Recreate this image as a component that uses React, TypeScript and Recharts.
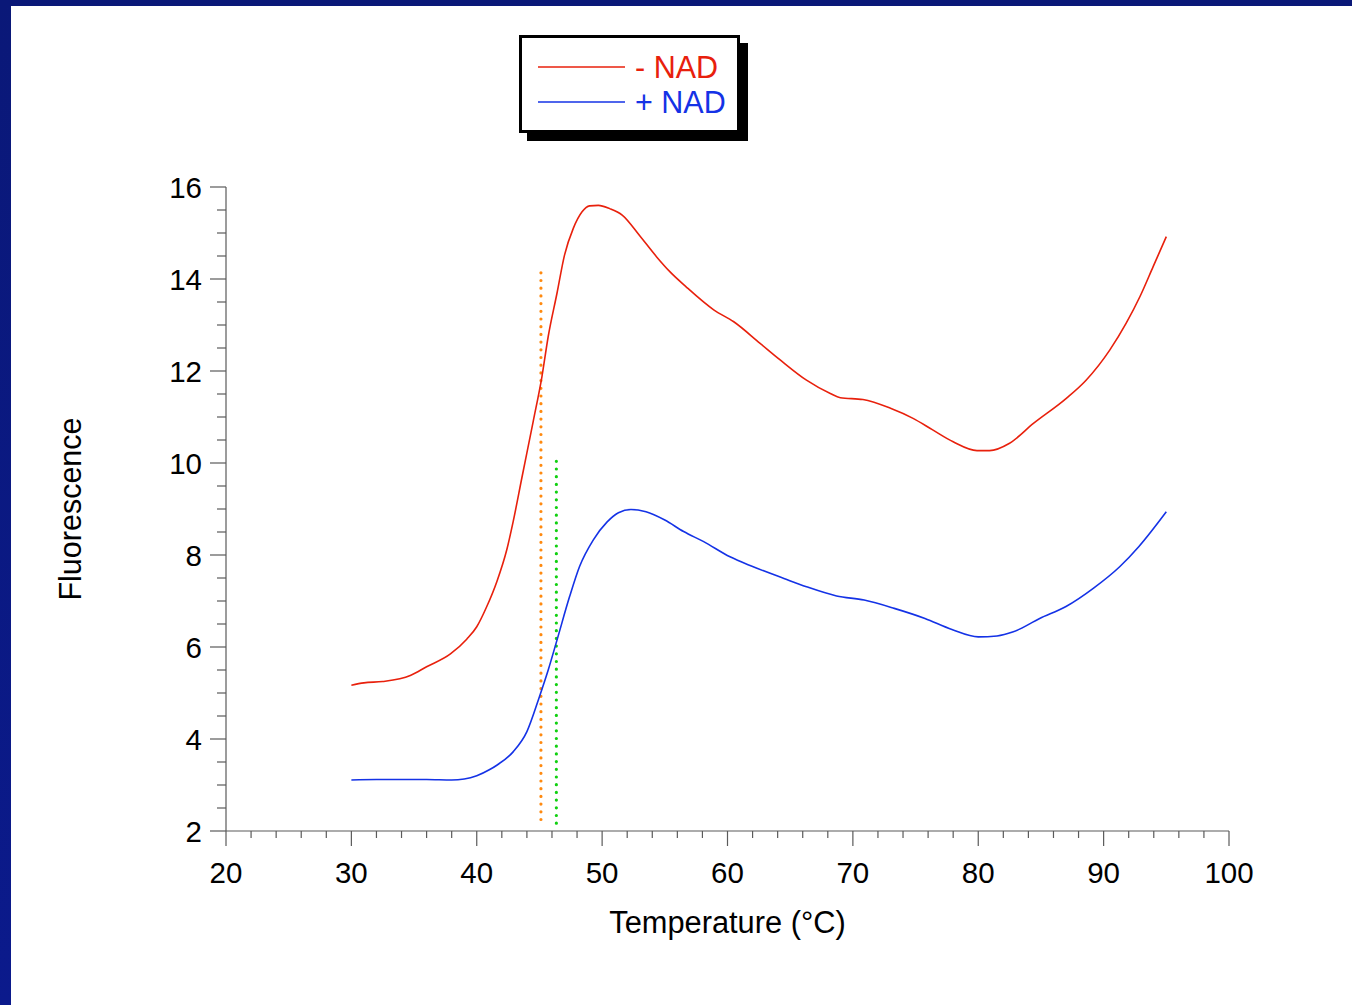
import { LineChart, Line, XAxis, YAxis, ReferenceLine, Legend } from 'recharts';

// melting curves (temperature in °C, fluorescence)
const minusNadTemp = [30, 31, 32.5, 34.7, 36, 37.9, 39.2, 40, 40.8, 41.6, 42.4, 42.9, 43.6, 44.5, 45.2, 45.7, 46.4, 47, 47.7, 48.4, 49, 49.7, 50.6, 51.6, 53, 54.35, 55.4, 56.7, 58.9, 60.5, 62.6, 64.2, 66.3, 68.2, 69, 70.8, 73, 74.8, 76.3, 78, 79.9, 80.9, 82.5, 84.4, 87, 88.6, 90.5, 91.8, 92.9, 93.95, 95];
const minusNadFluo = [5.17, 5.22, 5.25, 5.38, 5.57, 5.85, 6.17, 6.44, 6.88, 7.42, 8.12, 8.72, 9.68, 10.9, 11.88, 12.75, 13.69, 14.52, 15.1, 15.46, 15.59, 15.6, 15.53, 15.39, 14.94, 14.48, 14.16, 13.83, 13.33, 13.07, 12.6, 12.24, 11.8, 11.51, 11.42, 11.38, 11.19, 10.97, 10.73, 10.46, 10.27, 10.27, 10.43, 10.86, 11.4, 11.8, 12.46, 13.04, 13.62, 14.27, 14.92];

const plusNadTemp = [30, 32, 34, 36, 38, 39, 40, 41, 41.6, 42.9, 44, 45, 45.7, 46.4, 47.4, 48.2, 49.3, 50.4, 51.3, 52.3, 53.5, 55, 56.5, 58.1, 60.2, 62, 64.5, 66.3, 68.7, 70.9, 73.3, 75.75, 77.9, 80, 81.5, 82.8, 84.9, 87, 89.2, 91.3, 92.8, 95];
const plusNadFluo = [3.11, 3.12, 3.12, 3.12, 3.11, 3.13, 3.2, 3.33, 3.43, 3.72, 4.16, 4.92, 5.5, 6.15, 7.09, 7.75, 8.33, 8.72, 8.92, 8.99, 8.94, 8.76, 8.51, 8.29, 7.96, 7.75, 7.49, 7.31, 7.11, 7.02, 6.84, 6.62, 6.38, 6.22, 6.24, 6.33, 6.62, 6.88, 7.28, 7.75, 8.18, 8.94];

// dotted markers (Tm estimates)
const orangeMark = { t: 45.12, from: 2.25, to: 14.15 };
const greenMark = { t: 46.35, from: 2.17, to: 10.2 };

const xTicks = [20, 22, 24, 26, 28, 30, 32, 34, 36, 38, 40, 42, 44, 46, 48, 50, 52, 54, 56, 58, 60, 62, 64, 66, 68, 70, 72, 74, 76, 78, 80, 82, 84, 86, 88, 90, 92, 94, 96, 98, 100];
const xLabels = [20, 30, 40, 50, 60, 70, 80, 90, 100];
const yTicks = [2, 2.5, 3, 3.5, 4, 4.5, 5, 5.5, 6, 6.5, 7, 7.5, 8, 8.5, 9, 9.5, 10, 10.5, 11, 11.5, 12, 12.5, 13, 13.5, 14, 14.5, 15, 15.5, 16];
const yLabels = [2, 4, 6, 8, 10, 12, 14, 16];

const minusData = minusNadTemp.map((t, i) => ({ t, f: minusNadFluo[i] }));
const plusData = plusNadTemp.map((t, i) => ({ t, f: plusNadFluo[i] }));

const FONT = 'Arial, "Liberation Sans", sans-serif';
const AXIS = '#5a5a5a';
const RED = '#e8200c';
const BLUE = '#1432e6';

const XTick = (props: any) => {
  const { x, y, payload } = props;
  const major = xLabels.includes(payload.value);
  return (
    <g>
      <line x1={x} y1={y} x2={x} y2={y + (major ? 15 : 7)} stroke={AXIS} strokeWidth={1.2} />
      {major && (
        <text x={x} y={y + 52} textAnchor="middle" fontSize={29.5} fontFamily={FONT} fill="#000">
          {payload.value}
        </text>
      )}
    </g>
  );
};

const YTick = (props: any) => {
  const { x, y, payload } = props;
  const major = yLabels.includes(payload.value);
  return (
    <g>
      <line x1={x} y1={y} x2={x - (major ? 16 : 9)} y2={y} stroke={AXIS} strokeWidth={1.2} />
      {major && (
        <text x={x - 24} y={y + 10.5} textAnchor="end" fontSize={29.5} fontFamily={FONT} fill="#000">
          {payload.value}
        </text>
      )}
    </g>
  );
};

const LegendBox = () => (
  <svg width={234} height={110} style={{ display: 'block' }}>
    <rect x={8} y={8} width={221} height={98} fill="#000" />
    <rect x={1.5} y={1.5} width={218} height={95} fill="#fff" stroke="#000" strokeWidth={3} />
    <line x1={19} x2={106} y1={32} y2={32} stroke={RED} strokeWidth={1.5} />
    <text x={116} y={43} fontSize={30.5} fontFamily={FONT} fill={RED}>- NAD</text>
    <line x1={19} x2={106} y1={67} y2={67} stroke={BLUE} strokeWidth={1.5} />
    <text x={116} y={78} fontSize={30.5} fontFamily={FONT} fill={BLUE}>+ NAD</text>
  </svg>
);

export default function App() {
  return (
    <div
      style={{
        position: 'absolute',
        left: 0,
        top: 0,
        width: 1352,
        height: 1005,
        background: 'linear-gradient(180deg, #0a1878 0%, #0b1a8c 100%)',
        overflow: 'hidden',
      }}
    >
      <div style={{ position: 'absolute', left: 11, top: 6, right: 0, bottom: 0, background: '#fff' }} />
      <div style={{ position: 'absolute', left: 0, top: 0 }}>
        <LineChart width={1352} height={1005} margin={{ top: 187, right: 123, bottom: 114, left: 166 }}>
          <XAxis
            type="number"
            dataKey="t"
            domain={[20, 100]}
            ticks={xTicks}
            interval={0}
            tickSize={0}
            tickMargin={0}
            tick={<XTick />}
            height={60}
            stroke={AXIS}
            axisLine={{ stroke: AXIS, strokeWidth: 1.2 }}
            allowDataOverflow
            label={{
              content: (p: any) => (
                <text
                  x={p.viewBox.x + p.viewBox.width / 2}
                  y={p.viewBox.y + 102}
                  textAnchor="middle"
                  fontSize={30.8}
                  fontFamily={FONT}
                  fill="#000"
                >
                  Temperature (°C)
                </text>
              ),
            }}
          />
          <YAxis
            type="number"
            dataKey="f"
            domain={[2, 16]}
            ticks={yTicks}
            interval={0}
            tickSize={0}
            tickMargin={0}
            tick={<YTick />}
            width={60}
            axisLine={{ stroke: AXIS, strokeWidth: 1.2 }}
            allowDataOverflow
            label={{
              content: (p: any) => {
                const cy = p.viewBox.y + p.viewBox.height / 2;
                return (
                  <text
                    x={81}
                    y={cy}
                    transform={`rotate(-90, 81, ${cy})`}
                    textAnchor="middle"
                    fontSize={30.5}
                    fontFamily={FONT}
                    fill="#000"
                  >
                    Fluorescence
                  </text>
                );
              },
            }}
          />
          <Legend
            layout="vertical"
            verticalAlign="middle"
            align="center"
            content={() => <LegendBox />}
            wrapperStyle={{ left: 519, top: 35, width: 234, height: 110 }}
          />
          <ReferenceLine
            segment={[{ x: orangeMark.t, y: orangeMark.from }, { x: orangeMark.t, y: orangeMark.to }]}
            stroke="#ff8a10"
            strokeWidth={3.2}
            strokeDasharray="0 7.7"
            strokeLinecap="round"
          />
          <ReferenceLine
            segment={[{ x: greenMark.t, y: greenMark.from }, { x: greenMark.t, y: greenMark.to }]}
            stroke="#10d010"
            strokeWidth={3.2}
            strokeDasharray="0 7.7"
            strokeLinecap="round"
          />
          <Line
            data={minusData}
            dataKey="f"
            type="monotone"
            stroke={RED}
            strokeWidth={1.6}
            dot={false}
            isAnimationActive={false}
            name="- NAD"
          />
          <Line
            data={plusData}
            dataKey="f"
            type="monotone"
            stroke={BLUE}
            strokeWidth={1.6}
            dot={false}
            isAnimationActive={false}
            name="+ NAD"
          />
        </LineChart>
      </div>
    </div>
  );
}
